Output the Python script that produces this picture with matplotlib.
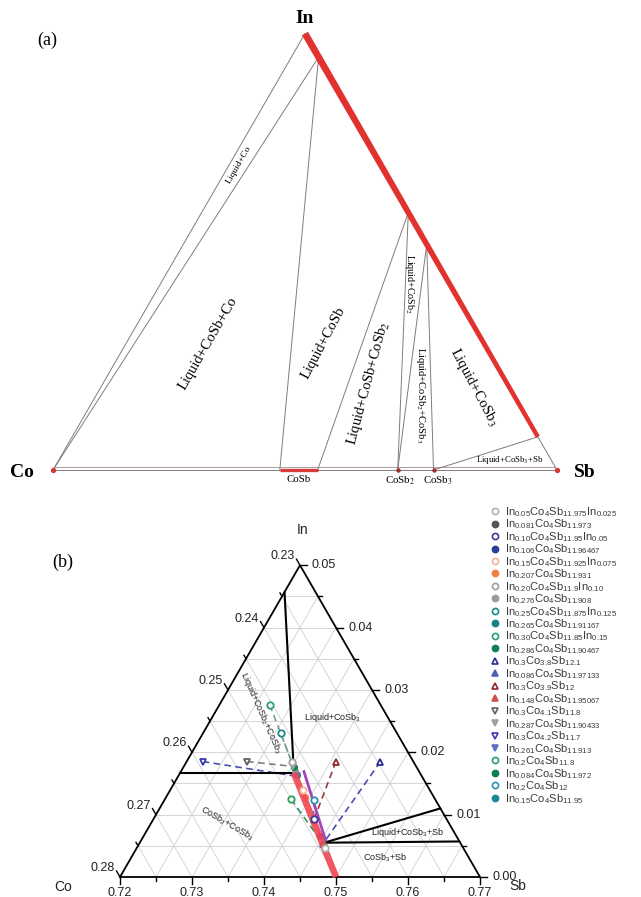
import numpy as np
import matplotlib
matplotlib.use("Agg")
import matplotlib.pyplot as plt
from matplotlib.lines import Line2D
from matplotlib.patches import Polygon
from matplotlib.font_manager import FontProperties

plt.rcParams["mathtext.fontset"] = "custom"
plt.rcParams["mathtext.rm"] = "Liberation Sans"
plt.rcParams["mathtext.it"] = "Liberation Sans:italic"
plt.rcParams["mathtext.bf"] = "Liberation Sans:bold"

SERIF = "Liberation Serif"
SANS = "Liberation Sans"
W, H, DPI = 641, 897, 100
R3 = np.sqrt(3) / 2

# ---------------- panel (a): Co-In-Sb section, mole fractions ----------------
liq_in = [1.0, 0.076]                 # liquid on the In-Sb edge: In-rich end, Sb-rich end
corner_in = [0.946, 0.59, 0.517]      # liquid corners of the three-phase triangles
cosb_sb = [0.45, 0.525]               # CoSb homogeneity range on the Co-Sb edge
cosb2_sb = 0.684
cosb3_sb = 0.755

# ---------------- panel (b): Sb-rich corner near CoSb3 ----------------
bnd_in = [[0.0457, 0.0167], [0.0167, 0.0167], [0.0055, 0.0110], [0.0055, 0.0057]]
bnd_sb = [[0.7200, 0.7358], [0.7200, 0.7358], [0.7456, 0.7590], [0.7456, 0.7643]]
sol_in = [0.0167, 0.0]                # In solubility line of skutterudite
sol_sb = [0.7358, 0.75]
sol2_in = [0.0169, 0.0059]
sol2_sb = [0.7371, 0.7456]

# sample stoichiometries In(x)Co(y)Sb(z)In(w)
in_fill = [0.05, 0.081, 0.10, 0.106, 0.15, 0.207, 0.20, 0.276, 0.25, 0.265, 0.30, 0.286,
           0.3, 0.086, 0.3, 0.148, 0.3, 0.287, 0.3, 0.261, 0.2, 0.084, 0.2, 0.15]
in_sub = [0.025, 0, 0.05, 0, 0.075, 0, 0.10, 0, 0.125, 0, 0.15, 0,
          0, 0, 0, 0, 0, 0, 0, 0, 0, 0, 0, 0]
co_amt = [4, 4, 4, 4, 4, 4, 4, 4, 4, 4, 4, 4,
          3.8, 4, 3.9, 4, 4.1, 4, 4.2, 4, 4, 4, 4, 4]
sb_amt = [11.975, 11.973, 11.95, 11.96467, 11.925, 11.931, 11.9, 11.908, 11.875, 11.91167,
          11.85, 11.90467, 12.1, 11.97133, 12, 11.95067, 11.8, 11.90433, 11.7, 11.913,
          11.8, 11.972, 12, 11.95]
labels = [
    r"In$_{0.05}$Co$_4$Sb$_{11.975}$In$_{0.025}$",
    r"In$_{0.081}$Co$_4$Sb$_{11.973}$",
    r"In$_{0.10}$Co$_4$Sb$_{11.95}$In$_{0.05}$",
    r"In$_{0.106}$Co$_4$Sb$_{11.96467}$",
    r"In$_{0.15}$Co$_4$Sb$_{11.925}$In$_{0.075}$",
    r"In$_{0.207}$Co$_4$Sb$_{11.931}$",
    r"In$_{0.20}$Co$_4$Sb$_{11.9}$In$_{0.10}$",
    r"In$_{0.276}$Co$_4$Sb$_{11.908}$",
    r"In$_{0.25}$Co$_4$Sb$_{11.875}$In$_{0.125}$",
    r"In$_{0.265}$Co$_4$Sb$_{11.91167}$",
    r"In$_{0.30}$Co$_4$Sb$_{11.85}$In$_{0.15}$",
    r"In$_{0.286}$Co$_4$Sb$_{11.90467}$",
    r"In$_{0.3}$Co$_{3.8}$Sb$_{12.1}$",
    r"In$_{0.086}$Co$_4$Sb$_{11.97133}$",
    r"In$_{0.3}$Co$_{3.9}$Sb$_{12}$",
    r"In$_{0.148}$Co$_4$Sb$_{11.95067}$",
    r"In$_{0.3}$Co$_{4.1}$Sb$_{11.8}$",
    r"In$_{0.287}$Co$_4$Sb$_{11.90433}$",
    r"In$_{0.3}$Co$_{4.2}$Sb$_{11.7}$",
    r"In$_{0.261}$Co$_4$Sb$_{11.913}$",
    r"In$_{0.2}$Co$_4$Sb$_{11.8}$",
    r"In$_{0.084}$Co$_4$Sb$_{11.972}$",
    r"In$_{0.2}$Co$_4$Sb$_{12}$",
    r"In$_{0.15}$Co$_4$Sb$_{11.95}$",
]
markers = ["o"] * 12 + ["^"] * 4 + ["v"] * 4 + ["o"] * 4
colors = ["#b0b0b0", "#555555", "#3c3ca0", "#2c3e9c", "#f2b59a", "#f08040",
          "#a0a0a0", "#9c9c9c", "#1a8a8a", "#1a8080", "#2aa070", "#128050",
          "#2a2a90", "#5060b8", "#902828", "#d05050", "#606060", "#a0a0a0",
          "#3a3ab0", "#6070c0", "#2aa060", "#108050", "#2a8fb0", "#1a8a9a"]
line_cols = ["#9a9a9a", "#4a4aa8", "#f0a080", "#8a8a8a", "#6aa0a0", "#7a9a9a",
             "#4a50b0", "#a03a3a", "#808080", "#4a50b0", "#2a9a60", "#2a8fb0"]

fig = plt.figure(figsize=(W / DPI, H / DPI), dpi=DPI)


def frame_axes(origin_px, side_px):
    ox, oy = origin_px
    ax = fig.add_axes([0, 0, 1, 1])
    ax.set_xlim(-ox / side_px, (W - ox) / side_px)
    ax.set_ylim((oy - H) / side_px, oy / side_px)
    ax.axis("off")
    ax.patch.set_alpha(0)
    return ax


# =============================== panel (a) ===============================
ax_a = frame_axes((53, 470), 504)


def ta(In, Sb):
    In = np.asarray(In, float)
    Sb = np.asarray(Sb, float)
    return Sb + 0.5 * In, R3 * In


thin = dict(color="#857a7a", lw=0.7, solid_capstyle="round", zorder=2)


def seg_a(p, q, **kw):
    x, y = ta([p[0], q[0]], [p[1], q[1]])
    ax_a.plot(x, y, **{**thin, **kw})


CO, SB, IN = (0, 0), (0, 1), (1, 0)
P1, P2, P3 = [(c, 1 - c) for c in corner_in]
PE = (liq_in[1], 1 - liq_in[1])

seg_a(CO, IN)
seg_a(CO, SB)
seg_a((0.006, 0.0), (0.006, 0.994), lw=0.5)
seg_a(PE, SB)
seg_a(CO, P1)
seg_a(P1, (0, cosb_sb[0]))
seg_a(P2, (0, cosb_sb[1]))
seg_a(P2, (0, cosb2_sb))
seg_a(P3, (0, cosb2_sb))
seg_a(P3, (0, cosb3_sb))
seg_a(PE, (0, cosb3_sb))

# liquid band along the In-Sb edge, tapering toward Sb
hw = [0.008, 0.005]
pts = []
for a, d in zip(liq_in, hw):
    pts.append(ta(a + d / 2, 1 - a + d / 2))
for a, d in zip(liq_in[::-1], hw[::-1]):
    pts.append(ta(a - d / 2, 1 - a - d / 2))
ax_a.add_patch(Polygon(np.array(pts), closed=True, fc="#e2322f", ec="none", zorder=4))

x, y = ta([0, 0], cosb_sb)
ax_a.plot(x, y, color="#d83a3a", lw=2.4, solid_capstyle="butt", zorder=4)
x, y = ta([0, 0], [0, 1])
ax_a.plot(x, y, "o", ms=2.8, color="#d23a3a", zorder=5)
x, y = ta([0, 0], [cosb2_sb, cosb3_sb])
ax_a.plot(x, y, "o", ms=2.2, color="#a03030", zorder=5)


def lab_a(s, In, Sb, size, rot=0, **kw):
    x, y = ta(In, Sb)
    ax_a.text(x, y, s, fontsize=size, rotation=rot, family=SERIF, ha="center",
              va="center", math_fontfamily="stix", rotation_mode="anchor", **kw)


lab_a("Liquid+CoSb+Co", 0.291, 0.162, 10.5, 60)
lab_a("Liquid+CoSb", 0.291, 0.392, 10.5, 62)
lab_a(r"Liquid+CoSb+CoSb$_2$", 0.199, 0.527, 10.5, 75)
lab_a(r"Liquid+CoSb$_2$", 0.425, 0.494, 7.2, -90)
lab_a(r"Liquid+CoSb$_2$+CoSb$_3$", 0.171, 0.644, 7.6, -90)
lab_a(r"Liquid+CoSb$_3$", 0.19, 0.74, 10.5, -62)
lab_a(r"Liquid+CoSb$_3$+Sb", 0.0229, 0.8953, 6.3, 0)
lab_a("Liquid+Co", 0.70, 0.018, 6.8, 60)


def edge_label(ax, xy, s, off, size, **kw):
    ax.annotate(s, xy=xy, xytext=off, textcoords="offset pixels", fontsize=size,
                ha=kw.pop("ha", "center"), va=kw.pop("va", "center"), **kw)


edge_label(ax_a, ta(0, np.mean(cosb_sb)), "CoSb", (0, -9), 7.8, family=SERIF)
edge_label(ax_a, ta(0, cosb2_sb), r"CoSb$_2$", (2, -11), 7.8, family=SERIF,
           math_fontfamily="stix")
edge_label(ax_a, ta(0, cosb3_sb), r"CoSb$_3$", (4, -11), 7.8, family=SERIF,
           math_fontfamily="stix")
edge_label(ax_a, ta(*IN), "In", (0, 15), 14, family=SERIF, weight="bold")
edge_label(ax_a, ta(*CO), "Co", (-31, -2), 14, family=SERIF, weight="bold")
edge_label(ax_a, ta(*SB), "Sb", (28, -2), 14, family=SERIF, weight="bold")
fig.text(47 / W, 1 - 40 / H, "(a)", fontsize=13, family=SERIF, ha="center", va="center")

# =============================== panel (b) ===============================
ax_b = frame_axes((120, 877), 360)
IN0, SB0, SPAN = 0.0, 0.72, 0.05


def tb(In, Sb):
    i = (np.asarray(In, float) - IN0) / SPAN
    s = (np.asarray(Sb, float) - SB0) / SPAN
    return s + 0.5 * i, R3 * i


# grid every 0.005
steps = np.round(np.arange(0.005, 0.05, 0.005), 4)
gkw = dict(color="#cfcfcf", lw=0.6, zorder=1)
for v in steps:
    ax_b.plot(*tb([v, v], [SB0, SB0 + SPAN - v]), **gkw)          # constant In
    s = SB0 + v
    ax_b.plot(*tb([0, SB0 + SPAN - s], [s, s]), **gkw)             # constant Sb
    c = 0.23 + v
    ax_b.plot(*tb([0, 0.28 - c], [1 - c, SB0]), **gkw)             # constant Co

# outline
ax_b.plot(*tb([0, 0, SPAN, 0], [SB0, SB0 + SPAN, SB0, SB0]), color="black", lw=1.3,
          zorder=3, solid_joinstyle="miter")

# ticks and tick labels
in_ticks = [0.00, 0.01, 0.02, 0.03, 0.04, 0.05]
co_ticks = [0.23, 0.24, 0.25, 0.26, 0.27, 0.28]
sb_ticks = [0.72, 0.73, 0.74, 0.75, 0.76, 0.77]
minor = [0.005, 0.015, 0.025, 0.035, 0.045]
px = 1 / 360
tk = dict(color="black", lw=1.0, zorder=3)
for major, L in [(True, 7), (False, 4)]:
    for v in (in_ticks if major else minor):
        x, y = tb(v, SB0 + SPAN - v)
        ax_b.plot([x, x + L * px], [y, y], **tk)
    for c in (co_ticks if major else [0.23 + m for m in minor]):
        x, y = tb(0.28 - c, SB0)
        ax_b.plot([x, x - 0.5 * L * px], [y, y + R3 * L * px], **tk)
    for s in (sb_ticks if major else [SB0 + m for m in minor]):
        x, y = tb(0, s)
        ax_b.plot([x, x], [y, y - L * px], **tk)

for v in in_ticks:
    edge_label(ax_b, tb(v, SB0 + SPAN - v), f"{v:.2f}", (12, 0), 9, family=SANS,
               ha="left", color="#222222")
for c in co_ticks:
    edge_label(ax_b, tb(0.28 - c, SB0), f"{c:.2f}", (-5, 9), 9, family=SANS,
               ha="right", color="#222222")
for s in sb_ticks:
    edge_label(ax_b, tb(0, s), f"{s:.2f}", (0, -10), 9, family=SANS, va="top",
               color="#222222")

edge_label(ax_b, tb(SPAN, SB0), "In", (3, 35), 10, family=SANS, color="#222222")
edge_label(ax_b, tb(0, SB0), "Co", (-57, -10), 10, family=SANS, color="#222222")
edge_label(ax_b, tb(0, SB0 + SPAN), "Sb", (38, -9), 10, family=SANS, color="#222222")
fig.text(63 / W, 1 - 562 / H, "(b)", fontsize=13, family=SERIF, ha="center", va="center")

# compositions of the samples
tot = np.array(in_fill) + np.array(in_sub) + np.array(co_amt) + np.array(sb_amt)
x_in = (np.array(in_fill) + np.array(in_sub)) / tot
x_sb = np.array(sb_amt) / tot

# nominal -> measured tie lines
for k in range(0, len(labels), 2):
    ax_b.plot(*tb(x_in[k:k + 2], x_sb[k:k + 2]), ls=(0, (4, 2.6)), lw=1.2,
              color=line_cols[k // 2], zorder=2)

# phase boundaries
for bi, bs in zip(bnd_in, bnd_sb):
    ax_b.plot(*tb(bi, bs), color="black", lw=1.5, zorder=3, solid_capstyle="round")
ax_b.plot(*tb(sol_in, sol_sb), color="#ee4a55", lw=4.8, alpha=0.92, zorder=4,
          solid_capstyle="butt")
ax_b.plot(*tb(sol2_in, sol2_sb), color="#a544b8", lw=2.0, zorder=5)

handles = []
for k in range(len(labels)):
    is_open = k % 2 == 0
    x, y = tb(x_in[k], x_sb[k])
    ax_b.plot(x, y, marker=markers[k], ls="none", ms=4.6 if is_open else 3.8,
              mfc="white" if is_open else colors[k], mec=colors[k], mew=1.3,
              zorder=6 if is_open else 3.6)
    handles.append(Line2D([], [], marker=markers[k], ls="none", ms=4.4,
                          mfc="white" if is_open else colors[k], mec=colors[k],
                          mew=1.2))

lab_b = dict(family=SANS, ha="center", va="center", color="#222222",
             rotation_mode="anchor")
for s, In, Sb, rot in [(r"Liquid+CoSb$_2$+CoSb$_3$", 0.0263, 0.7264, -66),
                       (r"Liquid+CoSb$_3$", 0.0255, 0.7368, 0),
                       (r"CoSb$_2$+CoSb$_3$", 0.00866, 0.7305, -30),
                       (r"Liquid+CoSb$_3$+Sb", 0.00706, 0.7565, 0),
                       (r"CoSb$_3$+Sb", 0.00305, 0.7553, 0)]:
    ax_b.text(*tb(In, Sb), s, fontsize=6.5, rotation=rot, zorder=7, **lab_b)

leg = fig.legend(handles, labels, loc="upper left",
                 bbox_to_anchor=(491 / W, 1 - 505 / H), frameon=False,
                 prop=FontProperties(family=SANS, size=8.0, math_fontfamily="custom"),
                 handlelength=0.8, handletextpad=0.45, labelspacing=-0.12,
                 borderpad=0, borderaxespad=0)
for t in leg.get_texts():
    t.set_color("#3a3a3a")

fig.savefig("out.png", dpi=DPI)
